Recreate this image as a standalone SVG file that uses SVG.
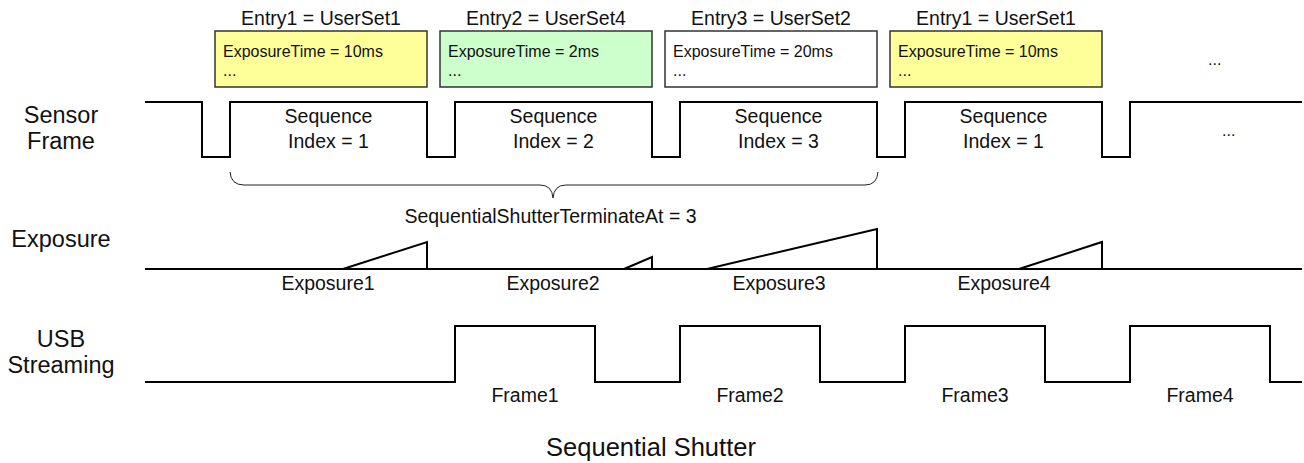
<svg xmlns="http://www.w3.org/2000/svg" width="1304" height="463" viewBox="0 0 1304 463">
<style>
text{font-family:"Liberation Sans",Arial,sans-serif;fill:#111}
.lbl{font-size:19.5px;text-anchor:middle}
.side{font-size:23.5px;text-anchor:middle}
.bx{font-size:16px}
.wave{fill:none;stroke:#000;stroke-width:2}
.box{stroke:#333;stroke-width:1.5}
.brace{fill:none;stroke:#222;stroke-width:1}
.title{font-size:25.5px;text-anchor:middle}
</style>
<rect width="1304" height="463" fill="#fff"/>
<g id="labels-left">
<text class="side" x="61" y="123">Sensor</text>
<text class="side" x="61" y="149">Frame</text>
<text class="side" x="61" y="247">Exposure</text>
<text class="side" x="61" y="347">USB</text>
<text class="side" x="61" y="373">Streaming</text>
</g>
<g id="entry1">
<text class="lbl" x="321" y="25">Entry1 = UserSet1</text>
<rect class="box" x="215" y="31" width="212" height="56" fill="#FFFF99"/>
<text class="bx" x="223" y="57">ExposureTime = 10ms</text>
<text class="bx" x="223" y="76">...</text>
</g>
<g id="entry2">
<text class="lbl" x="546" y="25">Entry2 = UserSet4</text>
<rect class="box" x="440" y="31" width="212" height="56" fill="#CCFFCC"/>
<text class="bx" x="448" y="57">ExposureTime = 2ms</text>
<text class="bx" x="448" y="76">...</text>
</g>
<g id="entry3">
<text class="lbl" x="771" y="25">Entry3 = UserSet2</text>
<rect class="box" x="665" y="31" width="212" height="56" fill="#FFFFFF"/>
<text class="bx" x="673" y="57">ExposureTime = 20ms</text>
<text class="bx" x="673" y="76">...</text>
</g>
<g id="entry4">
<text class="lbl" x="996" y="25">Entry1 = UserSet1</text>
<rect class="box" x="890" y="31" width="212" height="56" fill="#FFFF99"/>
<text class="bx" x="898" y="57">ExposureTime = 10ms</text>
<text class="bx" x="898" y="76">...</text>
</g>
<g id="entry-more">
<text class="bx" x="1208" y="65">...</text>
</g>
<g id="sensor-frame">
<path class="wave" d="M145,102 H202 V157 H230 V102 H427 V157 H455 V102 H652 V157 H680 V102 H877 V157 H905 V102 H1102 V157 H1130 V102 H1302"/>
<text class="lbl" x="328.5" y="123">Sequence</text>
<text class="lbl" x="328.5" y="148">Index = 1</text>
<text class="lbl" x="553.5" y="123">Sequence</text>
<text class="lbl" x="553.5" y="148">Index = 2</text>
<text class="lbl" x="778.5" y="123">Sequence</text>
<text class="lbl" x="778.5" y="148">Index = 3</text>
<text class="lbl" x="1003.5" y="123">Sequence</text>
<text class="lbl" x="1003.5" y="148">Index = 1</text>
<text class="bx" x="1222" y="136">...</text>
</g>
<g id="terminate-brace">
<path class="brace" d="M230,172 Q231,185 244,185 L540,185 Q552,185 553,198 Q554,185 566,185 L865,185 Q877,185 878,172"/>
<text class="lbl" x="550.5" y="223">SequentialShutterTerminateAt = 3</text>
</g>
<g id="exposure">
<path class="wave" d="M145,269 H1302"/>
<path class="wave" d="M343,269 L427,242 V269"/>
<path class="wave" d="M624,269 L652,257 V269"/>
<path class="wave" d="M707,269 L877,229 V269"/>
<path class="wave" d="M1019,269 L1102,242 V269"/>
<text class="lbl" x="328" y="290">Exposure1</text>
<text class="lbl" x="553" y="290">Exposure2</text>
<text class="lbl" x="779" y="290">Exposure3</text>
<text class="lbl" x="1004" y="290">Exposure4</text>
</g>
<g id="usb-streaming">
<path class="wave" d="M145,382 H455 V326 H595 V382 H680 V326 H820 V382 H905 V326 H1045 V382 H1130 V326 H1270 V382 H1302"/>
<text class="lbl" x="525" y="402">Frame1</text>
<text class="lbl" x="750" y="402">Frame2</text>
<text class="lbl" x="975" y="402">Frame3</text>
<text class="lbl" x="1200" y="402">Frame4</text>
</g>
<g id="title">
<text class="title" x="651" y="456">Sequential Shutter</text>
</g>
</svg>
